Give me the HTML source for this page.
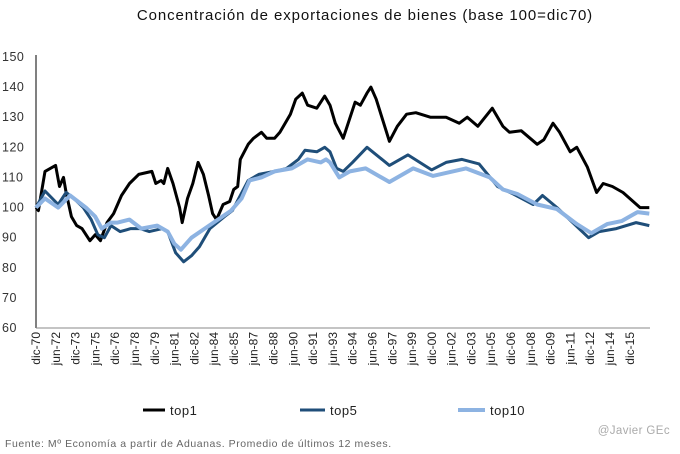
<!DOCTYPE html>
<html><head><meta charset="utf-8"><style>
body{margin:0;background:#fff;font-family:"Liberation Sans",sans-serif}
svg{display:block}
</style></head><body>
<svg id="c" width="680" height="454" xmlns="http://www.w3.org/2000/svg">
<text x="365" y="20" text-anchor="middle" font-size="15" letter-spacing="0.9" fill="#111">Concentración de exportaciones de bienes (base 100=dic70)</text>
<g id="yaxis"></g>
<g id="xaxis"></g>
<g id="series"></g>
<g>
<g><line x1="143" y1="410" x2="165" y2="410" stroke="#000" stroke-width="3"/><text x="170" y="415" font-size="13" letter-spacing="0.5" fill="#222">top1</text></g>
<g><line x1="300" y1="410" x2="325" y2="410" stroke="#1f4e79" stroke-width="3"/><text x="330" y="415" font-size="13" letter-spacing="0.5" fill="#222">top5</text></g>
<g><line x1="458" y1="410" x2="485" y2="410" stroke="#8db3e2" stroke-width="4"/><text x="490" y="415" font-size="13" letter-spacing="0.5" fill="#222">top10</text></g>
</g>
<text x="5" y="447" font-size="10.5" letter-spacing="0.55" fill="#666">Fuente: Mº Economía a partir de Aduanas. Promedio de últimos 12 meses.</text>
<text x="670" y="434" text-anchor="end" font-size="11.5" letter-spacing="0.4" fill="#aaa">@Javier GEc</text>
</svg>
<script>
const yTicks=[60,70,80,90,100,110,120,130,140,150];
const xTickLabels=["dic-70","jun-72","dic-73","jun-75","dic-76","jun-78","dic-79","jun-81","dic-82","jun-84","dic-85","jun-87","dic-88","jun-90","dic-91","jun-93","dic-94","jun-96","dic-97","jun-99","dic-00","jun-02","dic-03","jun-05","dic-06","jun-08","dic-09","jun-11","dic-12","jun-14","dic-15"];
const top1Dates=[1970.92,1971.1,1971.6,1972.4,1972.7,1973.0,1973.2,1973.6,1974.0,1974.4,1975.0,1975.4,1975.8,1976.3,1976.8,1977.4,1978.0,1978.7,1979.7,1980.0,1980.4,1980.6,1980.9,1981.3,1981.8,1982.0,1982.4,1982.8,1983.2,1983.6,1984.0,1984.3,1984.6,1985.1,1985.6,1985.9,1986.2,1986.4,1987.0,1987.4,1988.0,1988.4,1989.0,1989.4,1990.2,1990.6,1991.1,1991.5,1992.2,1992.8,1993.2,1993.6,1994.2,1995.1,1995.5,1996.0,1996.3,1996.7,1997.7,1998.3,1999.0,1999.7,2000.8,2002.0,2003.0,2003.6,2004.4,2005.5,2006.3,2006.8,2007.7,2008.9,2009.4,2010.1,2010.6,2011.4,2011.9,2012.7,2013.4,2013.9,2014.6,2015.4,2016.7,2017.4];
const top1Values=[100,99,112,114,107,110,105,97,94,93,89,91,89,95,98,104,108,111,112,108,109,108,113,108,100,95,103,108,115,111,104,98,96,101,102,106,107,116,121,123,125,123,123,125,131,136,138,134,133,137,134,128,123,135,134,138,140,136,122,127,131,131.5,130,130,128,130,127,133,127,125,125.5,121,122.5,128,125,118.5,120,113.5,105,108,107,105,100,100];
const top5Dates=[1970.92,1971.6,1972.6,1973.2,1973.8,1974.5,1975.1,1975.6,1976.1,1976.6,1977.3,1978.1,1978.8,1979.5,1980.5,1980.9,1981.5,1982.1,1982.7,1983.3,1984.1,1985.2,1985.8,1987.0,1987.8,1989.0,1989.9,1990.8,1991.3,1992.2,1992.8,1993.2,1993.7,1994.2,1994.9,1996.0,1997.7,1999.1,2000.9,2002.0,2003.2,2004.5,2005.9,2007.1,2008.6,2009.3,2010.4,2011.6,2012.8,2013.6,2014.9,2016.4,2017.4];
const top5Values=[100,105.5,101,105,103,100,96,91,90,94,92,93,93,92,93,92,85,82,84,87,93,97,99,109,111,112,113,116,119,118.5,120,118.5,113,112,115,120,114,117.5,112.5,115,116,114.5,107,104.5,101,104,100,95,90,92,93,95,94];
const top10Dates=[1970.92,1971.6,1972.6,1973.5,1974.7,1975.4,1975.9,1976.6,1977.1,1978.0,1978.9,1980.1,1980.9,1981.4,1981.9,1982.7,1983.7,1984.7,1985.7,1986.5,1987.1,1988.0,1989.0,1990.3,1991.5,1992.5,1992.9,1993.2,1993.9,1994.7,1995.9,1997.7,1999.5,2001.0,2003.5,2005.3,2006.3,2007.4,2008.9,2010.4,2011.9,2013.0,2014.2,2015.3,2016.5,2017.4];
const top10Values=[100,103,100,104,100,97,93,95,95,96,93,94,92,88,86,90,93,96,99,103,109,110,112,113,116,115,116,115,110,112,113,108.5,113,110.5,113,110,106,104.5,101,99.5,94.5,91.5,94.5,95.5,98.5,98];
const X0=36,X1=650,T0=1970.917,T1=2017.45,Y0=328,Y1=57;
const xs=t=>X0+(t-T0)*(X1-X0)/(T1-T0);
const ys=v=>Y0-(v-60)*(Y0-Y1)/90;
const NS="http://www.w3.org/2000/svg";
function mk(tag,attrs,parent){const e=document.createElementNS(NS,tag);for(const k in attrs)e.setAttribute(k,attrs[k]);parent.appendChild(e);return e;}
const ya=document.getElementById('yaxis'),xa=document.getElementById('xaxis'),sg=document.getElementById('series');
let l=mk('line',{x1:X0,y1:Y1-2,x2:X0,y2:Y0,stroke:'#000','stroke-width':1},ya);


yTicks.forEach(v=>{const t=mk('text',{x:2,y:ys(v)+4,'font-size':12.5,'letter-spacing':0.5,fill:'#333'},ya);t.textContent=v;

});
l=mk('line',{x1:X0,y1:Y0,x2:X1,y2:Y0,stroke:'#888','stroke-width':1},xa);


xTickLabels.forEach((s,i)=>{const x=xs(T0+i*1.5)+4;const t=mk('text',{x:0,y:0,'font-size':12,fill:'#222','text-anchor':'end',transform:`translate(${x},332) rotate(-90)`},xa);t.textContent=s;

});
function draw(d,v,color,w,name){const pts=d.map((t,i)=>xs(t).toFixed(1)+','+ys(v[i]).toFixed(1)).join(' ');
const p=mk('polyline',{points:pts,fill:'none',stroke:color,'stroke-width':w,'stroke-linejoin':'round'},sg);

}
draw(top1Dates,top1Values,'#000',3,'line-top1');
draw(top5Dates,top5Values,'#1f4e79',3,'line-top5');
draw(top10Dates,top10Values,'#8db3e2',4,'line-top10');
</script>
</body></html>
